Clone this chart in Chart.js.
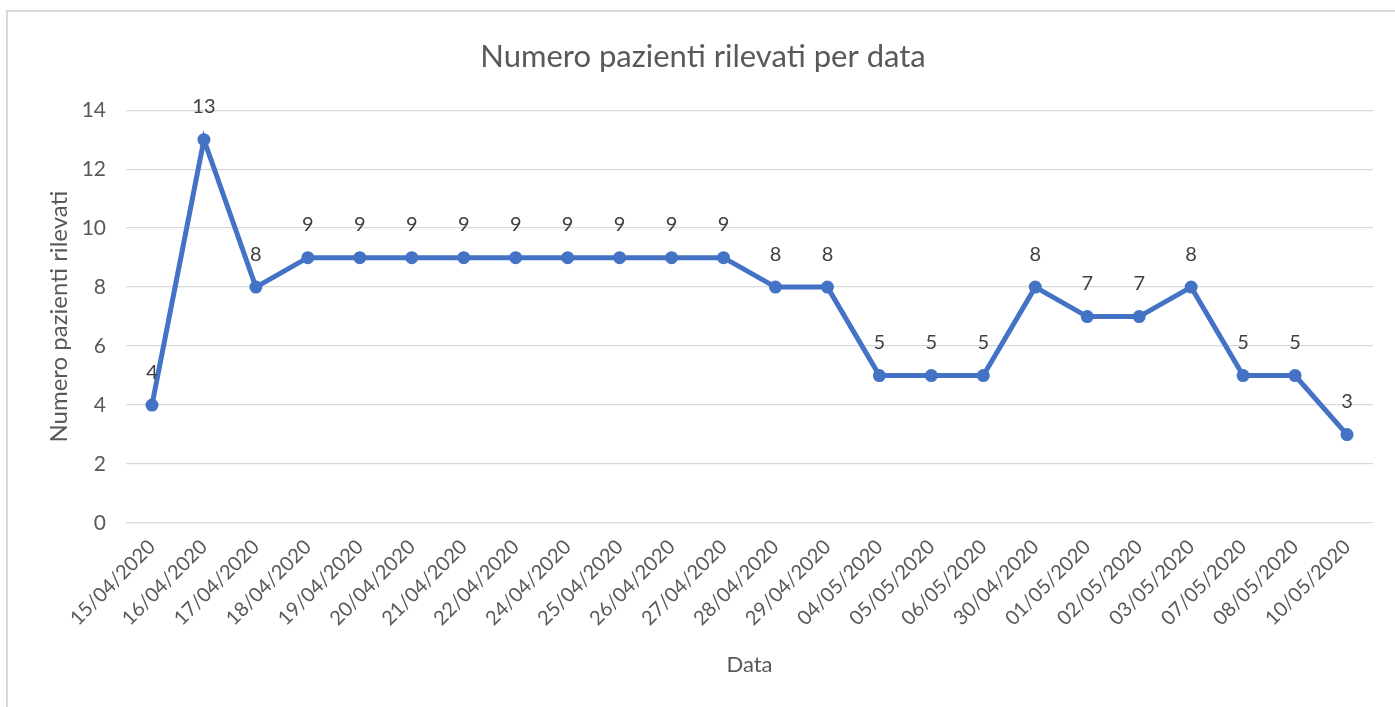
<!DOCTYPE html>
<html>
<head>
<meta charset="utf-8">
<script src="https://cdn.jsdelivr.net/npm/chart.js@4"></script>
<style>
  html, body { margin: 0; padding: 0; background: #fff; }
  #wrap { position: relative; width: 1395px; height: 707px; }
  #cornice { position: absolute; left: 6px; top: 10px; right: 0; bottom: 0;
    border-left: 2px solid #d9d9d9; border-top: 2px solid #d9d9d9; }
  canvas { position: absolute; left: 0; top: 0; }
</style>
</head>
<body>
<div id="wrap">
  <div id="cornice"></div>
  <canvas id="grafico" width="1395" height="707"></canvas>
</div>
<script>
// date rilevate (ordine come nel foglio)
const date = [
  "15/04/2020", "16/04/2020", "17/04/2020", "18/04/2020", "19/04/2020",
  "20/04/2020", "21/04/2020", "22/04/2020", "24/04/2020", "25/04/2020",
  "26/04/2020", "27/04/2020", "28/04/2020", "29/04/2020", "04/05/2020",
  "05/05/2020", "06/05/2020", "30/04/2020", "01/05/2020", "02/05/2020",
  "03/05/2020", "07/05/2020", "08/05/2020", "10/05/2020"
];
const pazienti = [4, 13, 8, 9, 9, 9, 9, 9, 9, 9, 9, 9, 8, 8, 5, 5, 5, 8, 7, 7, 8, 5, 5, 3];
const tickY = [0, 2, 4, 6, 8, 10, 12, 14];

const titolo = "Numero pazienti rilevati per data";
const titoloX = "Data";
const titoloY = "Numero pazienti rilevati";

const font = "Lato, 'Open Sans', sans-serif";
const grigio = "#595959";

// etichette sopra ai punti
const etichette = {
  id: "etichette",
  afterDatasetsDraw(chart) {
    const ctx = chart.ctx;
    const meta = chart.getDatasetMeta(0);
    ctx.save();
    ctx.font = "20px " + font;
    ctx.fillStyle = "#404040";
    ctx.textAlign = "center";
    ctx.textBaseline = "middle";
    meta.data.forEach((p, i) => {
      ctx.fillText(String(pazienti[i]), p.x, p.y - 33);
    });
    ctx.restore();
  }
};

new Chart(document.getElementById("grafico"), {
  type: "line",
  data: {
    labels: date,
    datasets: [{
      data: pazienti,
      borderColor: "#4472C4",
      backgroundColor: "#4472C4",
      borderWidth: 5,
      pointRadius: 5.5,
      pointBorderWidth: 2,
      pointBackgroundColor: "#4472C4",
      pointBorderColor: "#4472C4",
      tension: 0,
    }],
  },
  options: {
    responsive: false,
    animation: false,
    layout: { padding: { left: 33, right: 22, top: 12, bottom: 29 } },
    plugins: {
      legend: { display: false },
      tooltip: { enabled: false },
      title: {
        display: true,
        text: titolo,
        color: grigio,
        font: { family: font, size: 31, weight: "normal" },
        padding: { top: 26, bottom: 35 },
      },
    },
    scales: {
      x: {
        offset: true,
        grid: { display: false },
        border: { display: false },
        ticks: {
          color: grigio,
          font: { family: font, size: 20 },
          minRotation: 45,
          maxRotation: 45,
          autoSkip: false,
          padding: 4,
        },
        title: {
          display: true,
          text: titoloX,
          color: grigio,
          font: { family: font, size: 22 },
          padding: { top: 10, bottom: 0 },
        },
        afterFit(scale) { scale.height = 155; },
      },
      y: {
        min: 0,
        max: 14,
        afterBuildTicks(scale) { scale.ticks = tickY.map(v => ({ value: v })); },
        grid: { color: "#d9d9d9", lineWidth: 1.3, drawTicks: false },
        border: { display: false },
        ticks: {
          color: grigio,
          font: { family: font, size: 21 },
          padding: 20,
        },
        title: {
          display: true,
          text: titoloY,
          color: grigio,
          font: { family: font, size: 24 },
          padding: { top: 12, bottom: 0 },
        },
        afterFit(scale) { scale.width = 93; },
      },
    },
  },
  plugins: [etichette],
});
</script>
</body>
</html>
